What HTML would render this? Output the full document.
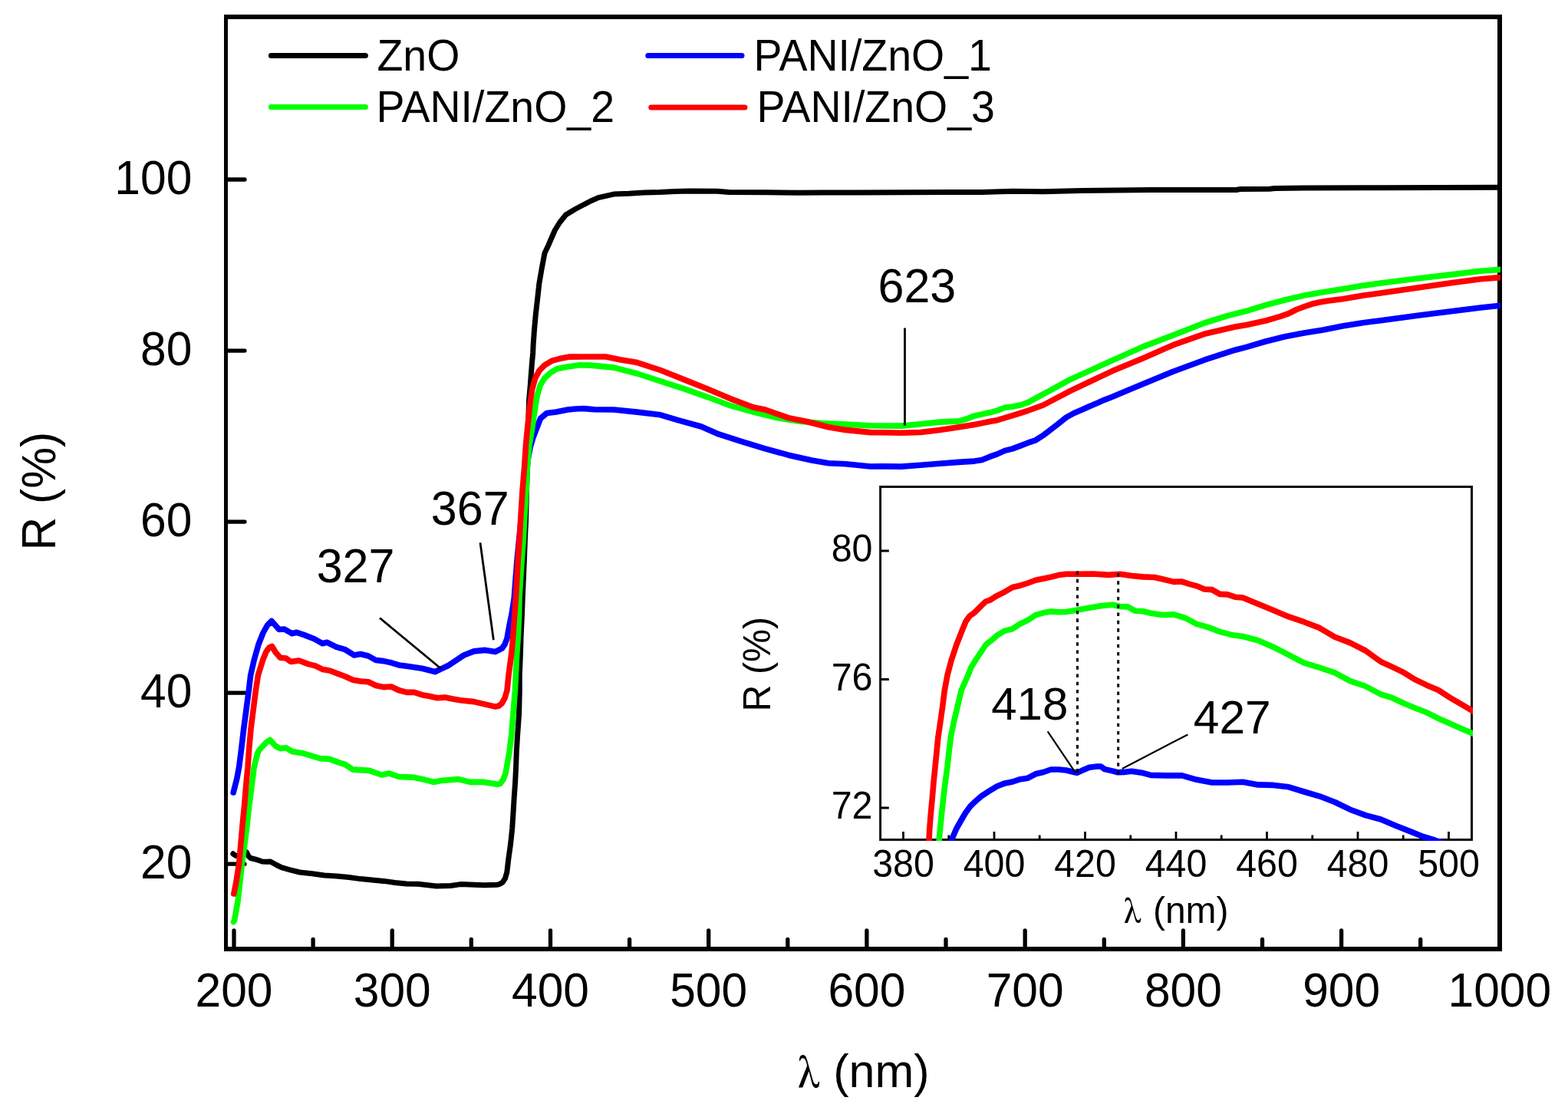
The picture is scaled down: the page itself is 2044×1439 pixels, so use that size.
<!DOCTYPE html>
<html><head><meta charset="utf-8"><title>Reflectance spectra ZnO and PANI/ZnO</title>
<style>html,body{margin:0;padding:0;background:#fff;overflow:hidden;}svg{display:block;}text{font-family:"Liberation Sans",Arial,sans-serif;fill:#000;}.s{font-family:"FreeSerif","Liberation Serif","Times New Roman",serif;}</style></head><body>
<svg width="2044" height="1439" viewBox="0 0 2044 1439">
<rect x="0" y="0" width="2044" height="1439" fill="#fff"/>
<g fill="#000" shape-rendering="crispEdges">
<rect x="292" y="19" width="1666" height="6"/>
<rect x="292" y="1234" width="1666" height="6"/>
<rect x="292" y="19" width="5" height="1221"/>
<rect x="1952" y="19" width="6" height="1221"/>
</g>
<path d="M305.0 1236V1213 M511.2 1236V1213 M717.5 1236V1213 M923.7 1236V1213 M1129.9 1236V1213 M1336.2 1236V1213 M1542.4 1236V1213 M1748.6 1236V1213 M1954.8 1236V1213 M408.1 1236V1224.5 M614.3 1236V1224.5 M820.6 1236V1224.5 M1026.8 1236V1224.5 M1233.0 1236V1224.5 M1439.3 1236V1224.5 M1645.5 1236V1224.5 M1851.7 1236V1224.5 M296 1126.2H319 M296 903.1H319 M296 680.1H319 M296 457.1H319 M296 234.0H319" stroke="#000" fill="none" stroke-width="5.3" stroke-linecap="round"/>
<text transform="translate(305.00 1312.00) scale(1 1.03)" font-size="60.5" text-anchor="middle">200</text>
<text transform="translate(511.23 1312.00) scale(1 1.03)" font-size="60.5" text-anchor="middle">300</text>
<text transform="translate(717.46 1312.00) scale(1 1.03)" font-size="60.5" text-anchor="middle">400</text>
<text transform="translate(923.69 1312.00) scale(1 1.03)" font-size="60.5" text-anchor="middle">500</text>
<text transform="translate(1129.92 1312.00) scale(1 1.03)" font-size="60.5" text-anchor="middle">600</text>
<text transform="translate(1336.15 1312.00) scale(1 1.03)" font-size="60.5" text-anchor="middle">700</text>
<text transform="translate(1542.38 1312.00) scale(1 1.03)" font-size="60.5" text-anchor="middle">800</text>
<text transform="translate(1748.61 1312.00) scale(1 1.03)" font-size="60.5" text-anchor="middle">900</text>
<text transform="translate(1954.84 1312.00) scale(1 1.03)" font-size="60.5" text-anchor="middle">1000</text>
<text transform="translate(250.30 1144.80) scale(1 1.03)" font-size="60.5" text-anchor="end">20</text>
<text transform="translate(250.30 921.75) scale(1 1.03)" font-size="60.5" text-anchor="end">40</text>
<text transform="translate(250.30 698.70) scale(1 1.03)" font-size="60.5" text-anchor="end">60</text>
<text transform="translate(250.30 475.65) scale(1 1.03)" font-size="60.5" text-anchor="end">80</text>
<text transform="translate(250.30 252.60) scale(1 1.03)" font-size="60.5" text-anchor="end">100</text>
<text transform="translate(72.30 640.20) rotate(-90) scale(1 1.03)" font-size="60.5" text-anchor="middle">R (%)</text>
<text transform="translate(1148.95 1416.80)" font-size="61" text-anchor="middle">(nm)</text>
<text class="s" transform="translate(1040 1417.3)" font-size="63">λ</text>
<g stroke-width="7" stroke-linecap="round" fill="none">
<path d="M353.4 72.5H476.4" stroke="#000"/>
<path d="M353.4 139.4H476.4" stroke="#00ff00"/>
<path d="M844.8 72.5H967" stroke="#0000ff"/>
<path d="M848.8 139.9H971" stroke="#ff0000"/>
</g>
<text transform="translate(491.40 91.80) scale(1 1.03)" font-size="55.5">ZnO</text>
<text transform="translate(490.60 158.60) scale(1 1.03)" font-size="55.5">PANI/ZnO_2</text>
<text transform="translate(982.50 91.70) scale(1 1.03)" font-size="55.5">PANI/ZnO_1</text>
<text transform="translate(986.50 158.60) scale(1 1.03)" font-size="55.5">PANI/ZnO_3</text>
<defs><clipPath id="mc"><rect x="0" y="0" width="1956" height="1439"/></clipPath></defs>
<g fill="none" stroke-width="7.6" stroke-linejoin="round" stroke-linecap="round" clip-path="url(#mc)">
<polyline stroke="#000" stroke-width="7.0" points="303.8,1112.8 307.5,1115.5 313.0,1115.5 318.5,1113.0 321.5,1111.0 324.0,1116.0 326.6,1118.5 334.2,1120.4 341.9,1123.0 347.1,1123.3 352.5,1123.0 360.5,1127.5 366.9,1130.7 378.1,1133.9 390.9,1137.0 406.9,1138.7 422.9,1141.0 438.9,1141.9 454.8,1143.5 470.0,1145.6 485.0,1147.0 500.0,1148.4 515.0,1150.5 530.0,1151.9 545.0,1152.2 568.8,1155.0 587.6,1154.5 600.1,1152.6 631.3,1153.8 647.6,1153.2 651.0,1152.6 655.0,1150.2 658.5,1145.0 660.8,1137.0 662.8,1120.0 665.6,1100.0 667.7,1080.0 669.0,1060.0 670.2,1040.0 671.6,1020.0 672.6,1000.0 673.3,980.0 674.5,960.0 676.6,930.0 677.3,900.0 677.3,880.0 678.5,850.0 679.1,830.0 680.5,800.0 681.2,780.0 683.4,730.0 684.4,702.0 685.5,680.0 686.9,625.0 688.0,600.0 688.5,560.0 689.5,522.5 691.3,501.7 693.4,473.9 694.7,460.0 695.1,450.0 696.5,430.0 698.3,410.0 700.6,390.0 702.8,370.0 706.2,350.0 710.0,330.0 714.7,320.0 723.4,300.0 729.6,290.0 737.6,280.0 750.0,272.5 770.0,262.0 780.0,257.6 800.0,253.1 820.0,252.3 840.0,250.9 860.0,250.4 880.0,249.4 900.0,249.0 935.0,249.3 950.0,250.5 1000.0,250.8 1040.0,251.2 1075.0,251.1 1120.0,251.0 1236.7,250.4 1280.0,250.4 1320.0,249.2 1360.0,249.7 1410.0,248.5 1500.0,247.6 1612.0,247.5 1617.0,246.4 1655.0,246.2 1662.0,245.4 1700.0,245.0 1800.0,244.7 1956.0,244.3"/>
<polyline stroke="#0000ff" points="304.2,1033.0 306.5,1024.0 308.8,1015.0 311.6,1000.0 314.8,975.0 317.7,950.0 321.0,925.0 324.3,900.0 326.7,880.0 331.3,860.0 337.0,840.0 342.9,825.0 348.5,815.0 354.0,809.5 358.5,814.5 363.8,820.5 370.6,820.0 380.6,825.8 386.7,824.3 395.9,827.4 409.6,832.7 420.3,838.8 426.4,837.3 438.6,843.4 450.0,846.7 461.7,854.0 470.0,852.5 480.0,855.0 490.0,860.5 500.0,861.6 510.0,863.8 520.0,866.9 530.0,868.3 540.0,869.7 550.0,871.3 560.0,873.8 567.0,875.7 575.0,871.9 585.0,867.2 604.7,854.0 617.8,848.9 632.4,847.4 645.6,849.6 654.3,845.2 658.0,840.0 661.0,832.0 664.0,815.0 667.1,800.0 670.2,780.0 674.0,730.0 676.8,702.0 680.0,670.0 684.0,630.0 688.0,600.0 691.2,583.0 695.0,570.0 698.9,560.0 704.5,545.5 712.8,538.5 725.0,536.9 740.0,534.0 750.0,533.0 760.0,532.5 775.0,533.7 800.3,534.0 830.7,537.1 861.0,540.8 883.7,547.7 914.1,556.0 936.8,565.9 967.1,575.7 997.5,584.8 1027.8,593.2 1058.1,600.0 1080.0,603.8 1102.3,604.8 1134.6,608.0 1150.0,607.9 1175.0,608.1 1200.0,606.2 1225.0,604.2 1250.0,602.4 1270.0,601.1 1280.0,599.5 1290.0,595.4 1300.0,591.9 1310.0,587.4 1320.0,584.9 1330.0,581.1 1340.0,577.2 1350.0,573.8 1360.0,567.4 1370.0,559.8 1380.0,552.0 1390.0,544.0 1400.0,538.5 1410.0,534.3 1420.0,529.7 1430.0,525.5 1440.0,521.1 1450.0,517.2 1490.0,500.4 1530.0,484.0 1570.0,469.2 1610.0,456.2 1625.0,452.4 1650.0,445.0 1675.0,438.7 1700.0,433.9 1725.0,429.9 1750.0,425.0 1775.0,420.9 1800.0,417.8 1850.0,411.0 1890.0,406.0 1930.0,401.1 1956.0,398.3"/>
<polyline stroke="#00ff00" points="304.5,1201.5 305.5,1200.0 310.0,1175.0 312.8,1150.0 315.5,1125.0 319.0,1100.0 322.1,1075.0 324.8,1050.0 328.1,1025.0 331.2,1000.0 333.7,990.0 336.0,981.0 338.5,977.0 343.0,972.0 348.0,967.0 352.0,964.5 359.2,972.5 365.3,975.6 372.9,974.8 380.6,979.4 394.3,981.7 405.0,984.8 417.2,988.6 429.5,989.4 441.7,993.9 450.0,996.5 460.0,1003.1 481.3,1004.4 497.5,1010.0 507.5,1008.1 520.0,1012.5 537.5,1013.1 553.8,1016.3 565.0,1019.4 575.0,1017.5 597.5,1015.6 612.5,1019.4 631.3,1019.4 647.6,1022.3 652.0,1021.5 656.0,1016.0 659.1,1007.8 661.6,993.9 664.0,980.0 666.5,960.0 669.0,930.0 671.4,900.0 672.4,880.0 673.9,850.0 675.3,830.0 676.7,800.0 677.0,780.0 680.2,730.0 682.4,702.0 683.4,680.0 686.0,640.0 687.3,610.0 690.0,580.0 693.5,560.0 696.8,536.4 700.3,515.6 704.5,501.7 710.0,492.7 717.7,485.7 726.0,480.8 740.0,478.0 755.7,475.7 770.0,476.1 800.3,479.1 830.7,487.0 861.0,496.9 891.3,506.7 921.7,517.3 952.0,528.7 982.3,537.1 1012.6,544.6 1043.0,549.2 1070.0,551.5 1102.3,553.1 1134.6,554.7 1150.0,555.0 1175.0,555.1 1200.0,552.8 1225.0,550.1 1250.0,548.9 1260.0,546.0 1270.0,542.1 1290.0,537.8 1300.0,535.1 1310.0,531.3 1320.0,530.0 1330.0,528.0 1340.0,524.6 1356.0,515.9 1370.0,508.4 1395.0,494.7 1420.0,483.4 1450.0,469.8 1490.0,451.9 1530.0,436.6 1570.0,421.0 1600.0,411.6 1625.0,405.3 1650.0,397.6 1675.0,391.0 1700.0,385.1 1725.0,380.8 1750.0,376.8 1775.0,372.6 1800.0,368.9 1850.0,362.7 1890.0,358.1 1930.0,353.2 1956.0,351.4"/>
<polyline stroke="#ff0000" points="304.8,1165.0 307.8,1150.0 311.7,1125.0 313.9,1100.0 316.1,1075.0 318.6,1050.0 320.6,1025.0 323.0,1000.0 324.8,975.0 327.0,950.0 330.2,925.0 333.4,900.0 336.5,880.0 342.7,860.0 347.0,849.5 351.0,844.0 354.6,842.5 359.2,850.3 365.3,857.2 372.9,858.0 379.0,862.5 389.7,861.0 402.0,865.6 411.1,867.9 420.3,872.4 429.5,874.0 441.7,878.6 450.0,881.7 460.0,886.2 470.0,888.0 480.0,888.8 490.0,893.5 500.0,895.6 510.0,895.0 520.0,899.8 530.0,902.4 540.0,902.3 550.0,905.7 560.0,907.6 570.0,909.7 580.0,909.1 590.0,911.0 600.0,912.8 617.8,914.6 645.6,921.1 650.0,920.3 654.0,917.0 658.0,910.0 661.0,900.0 663.0,880.0 667.0,850.0 668.8,830.0 670.9,800.0 672.5,780.0 675.2,730.0 677.3,702.0 678.5,680.0 681.0,640.0 683.5,610.0 685.5,580.0 687.4,560.0 690.6,529.5 693.4,508.6 697.5,493.4 703.1,482.9 710.0,476.0 719.1,470.4 729.5,467.6 742.5,465.1 770.0,465.0 789.7,465.0 807.9,468.8 830.7,472.6 861.0,482.5 891.3,494.6 921.7,506.7 952.0,519.6 982.3,531.0 997.5,534.0 1027.8,544.6 1050.6,549.2 1080.0,556.8 1102.3,560.4 1134.6,563.6 1150.0,563.8 1175.0,564.3 1200.0,563.5 1225.0,560.6 1250.0,556.7 1270.0,553.5 1290.0,549.6 1300.0,547.7 1320.0,541.6 1340.0,535.3 1360.0,528.0 1395.0,509.6 1420.0,497.8 1450.0,483.6 1490.0,467.0 1530.0,449.4 1570.0,435.3 1610.0,426.0 1625.0,423.5 1650.0,418.0 1660.0,415.1 1670.0,412.2 1680.0,408.6 1690.0,403.5 1700.0,399.8 1710.0,396.3 1720.0,394.0 1730.0,392.3 1740.0,390.9 1750.0,389.7 1775.0,385.4 1800.0,381.9 1850.0,374.8 1890.0,369.0 1930.0,363.7 1956.0,361.6"/>
</g>
<g stroke="#000" stroke-width="2.8" fill="none">
<path d="M1179.5 427.5V554.7"/>
<path d="M495 805.5L574.8 871.5"/>
<path d="M626 707.4L643.4 834.3"/>
</g>
<text transform="translate(1195.40 393.80) scale(1 1.03)" font-size="61" text-anchor="middle">623</text>
<text transform="translate(463.50 758.80) scale(1 1.03)" font-size="61" text-anchor="middle">327</text>
<text transform="translate(612.70 683.80) scale(1 1.03)" font-size="61" text-anchor="middle">367</text>
<defs><clipPath id="ic"><rect x="1146.2" y="633" width="773.8" height="463"/></clipPath></defs>
<g stroke="#000" fill="none">
<rect x="1147.6" y="634.5" width="770.9" height="460" stroke-width="2.9"/>
<path d="M1177.5 1094.5V1084 M1296.0 1094.5V1084 M1414.5 1094.5V1084 M1533.0 1094.5V1084 M1651.5 1094.5V1084 M1770.0 1094.5V1084 M1888.5 1094.5V1084 M1236.8 1094.5V1088.5 M1355.2 1094.5V1088.5 M1473.8 1094.5V1088.5 M1592.2 1094.5V1088.5 M1710.8 1094.5V1088.5 M1829.2 1094.5V1088.5 M1147.6 1053.0H1158.8 M1147.6 885.5H1158.8 M1147.6 718.0H1158.8" stroke-width="2.8"/>
</g>
<g fill="none" stroke-width="7.6" stroke-linejoin="round" stroke-linecap="round" clip-path="url(#ic)">
<polyline stroke="#0000ff" points="1239.5,1100.0 1241.2,1093.0 1246.8,1080.0 1252.5,1070.0 1258.3,1060.0 1265.0,1050.8 1270.0,1045.9 1280.0,1037.2 1290.0,1030.7 1300.0,1024.7 1310.0,1020.9 1320.0,1019.0 1330.0,1015.7 1340.0,1014.2 1350.0,1008.8 1360.0,1006.5 1370.0,1003.0 1380.0,1003.0 1390.0,1004.0 1400.0,1006.5 1404.0,1007.4 1410.0,1004.6 1420.0,1000.3 1430.0,999.0 1435.0,999.0 1440.0,1002.6 1450.0,1004.9 1457.0,1006.7 1465.0,1006.4 1475.0,1005.2 1490.0,1007.6 1500.0,1010.4 1520.0,1010.9 1540.0,1010.7 1560.0,1016.3 1580.0,1020.0 1600.0,1020.0 1620.0,1019.2 1640.0,1022.9 1660.0,1023.4 1680.0,1025.8 1700.0,1032.0 1720.0,1037.8 1740.0,1045.5 1760.0,1055.2 1780.0,1062.6 1800.0,1068.0 1820.0,1076.5 1840.0,1084.4 1855.0,1090.5 1870.0,1095.0 1885.0,1100.0"/>
<polyline stroke="#00ff00" points="1224.2,1100.0 1224.3,1093.0 1225.6,1080.0 1227.6,1060.0 1229.8,1040.0 1232.2,1020.0 1234.9,1000.0 1237.1,980.0 1239.5,960.0 1243.6,940.0 1248.4,920.0 1253.1,900.0 1261.9,880.0 1265.9,870.0 1272.0,860.0 1278.0,851.0 1285.0,840.5 1295.0,832.6 1300.0,828.0 1310.0,822.1 1320.0,819.7 1330.0,813.0 1340.0,808.4 1350.0,801.7 1360.0,798.8 1370.0,797.1 1380.0,797.8 1390.0,797.5 1405.0,795.0 1420.0,792.3 1435.0,789.7 1450.0,788.2 1460.0,790.5 1470.0,790.9 1480.0,796.3 1490.0,796.8 1500.0,799.3 1515.0,801.5 1530.0,800.9 1545.0,805.5 1560.0,813.4 1575.0,817.6 1590.0,823.4 1605.0,827.4 1620.0,829.5 1640.0,834.7 1660.0,843.4 1680.0,853.7 1700.0,864.2 1720.0,870.2 1740.0,876.8 1760.0,887.7 1780.0,894.5 1800.0,905.0 1815.0,909.7 1830.0,916.8 1845.0,923.0 1860.0,928.8 1875.0,936.4 1890.0,943.0 1905.0,949.7 1922.0,957.0"/>
<polyline stroke="#ff0000" points="1211.0,1100.0 1211.1,1093.0 1211.8,1080.0 1213.4,1060.0 1215.3,1040.0 1217.0,1020.0 1219.0,1000.0 1221.0,980.0 1223.0,960.0 1226.0,940.0 1228.8,920.0 1231.3,900.0 1235.0,880.0 1240.3,860.0 1247.0,840.0 1254.9,820.0 1259.0,810.0 1264.0,803.0 1270.0,798.7 1280.0,788.8 1285.0,784.0 1290.0,782.4 1300.0,776.3 1310.0,771.3 1320.0,765.5 1330.0,763.2 1340.0,760.0 1350.0,756.3 1360.0,754.2 1370.0,752.1 1380.0,749.6 1390.0,748.3 1405.0,748.3 1425.0,748.0 1445.0,749.4 1460.0,748.2 1475.0,750.5 1490.0,751.9 1505.0,752.5 1515.0,754.8 1530.0,758.4 1540.0,758.0 1550.0,761.1 1560.0,763.8 1570.0,768.0 1580.0,768.6 1590.0,774.4 1600.0,774.9 1610.0,778.2 1620.0,779.0 1640.0,787.3 1660.0,795.6 1680.0,803.9 1700.0,810.7 1720.0,818.4 1740.0,830.3 1760.0,837.9 1780.0,848.0 1800.0,862.5 1815.0,869.4 1830.0,876.7 1845.0,885.9 1860.0,893.2 1875.0,899.5 1890.0,909.2 1905.0,918.0 1922.0,928.0"/>
</g>
<g stroke="#000" fill="none">
<path d="M1404.5 744.5V1007M1457.7 747V1009.3" stroke-width="3" stroke-dasharray="4.6 5.7"/>
<path d="M1365.7 953.4L1402.6 1008.2M1462.8 1002L1548.4 957.4" stroke-width="2.2"/>
</g>
<text transform="translate(1177.50 1142.50) scale(1 1.02)" font-size="48.4" text-anchor="middle">380</text>
<text transform="translate(1296.00 1142.50) scale(1 1.02)" font-size="48.4" text-anchor="middle">400</text>
<text transform="translate(1414.50 1142.50) scale(1 1.02)" font-size="48.4" text-anchor="middle">420</text>
<text transform="translate(1533.00 1142.50) scale(1 1.02)" font-size="48.4" text-anchor="middle">440</text>
<text transform="translate(1651.50 1142.50) scale(1 1.02)" font-size="48.4" text-anchor="middle">460</text>
<text transform="translate(1770.00 1142.50) scale(1 1.02)" font-size="48.4" text-anchor="middle">480</text>
<text transform="translate(1888.50 1142.50) scale(1 1.02)" font-size="48.4" text-anchor="middle">500</text>
<text transform="translate(1137.50 1067.20) scale(1 1.02)" font-size="48.4" text-anchor="end">72</text>
<text transform="translate(1137.50 899.70) scale(1 1.02)" font-size="48.4" text-anchor="end">76</text>
<text transform="translate(1137.50 732.20) scale(1 1.02)" font-size="48.4" text-anchor="end">80</text>
<text transform="translate(1003.90 865.70) rotate(-90) scale(1 1.02)" font-size="48.3" text-anchor="middle">R (%)</text>
<text transform="translate(1552.25 1202.70)" font-size="48" text-anchor="middle">(nm)</text>
<text class="s" transform="translate(1465.1 1203.2)" font-size="50">λ</text>
<text transform="translate(1342.20 937.70)" font-size="60" text-anchor="middle">418</text>
<text transform="translate(1606.20 955.80)" font-size="60.5" text-anchor="middle">427</text>
</svg></body></html>
